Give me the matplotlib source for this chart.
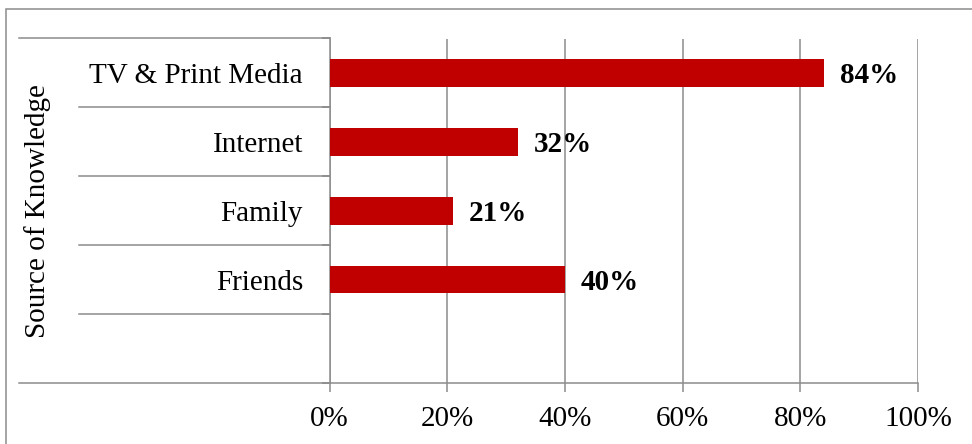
import numpy as np
import matplotlib
matplotlib.use('Agg')
import matplotlib.pyplot as plt
from matplotlib.patches import Rectangle

# dados
categorias = ['TV & Print Media', 'Internet', 'Family', 'Friends']
valores = [84, 32, 21, 40]
ticks_x = [0, 20, 40, 60, 80, 100]
rotulo_y = 'Source of Knowledge'

plt.rcParams['font.family'] = ['Liberation Serif', 'DejaVu Serif']
plt.rcParams['font.size'] = 21

W, H = 972, 444
fig = plt.figure(figsize=(W / 100, H / 100), dpi=100)
# area do grafico em pixels: x 329.5..918, y 38.5..383
ax = fig.add_axes([329.5 / W, 1 - 383 / H, (918 - 329.5) / W, (383 - 38.5) / H])

cinza = '#8c8c8c'
n = len(categorias) + 1  # uma faixa vazia embaixo
pos = np.arange(n - 1, 0, -1)

ax.barh(pos, valores, height=0.4, color='#c00000', zorder=3)
for p, v in zip(pos, valores):
    ax.annotate(f'{v}%', (v, p), xytext=(11.5, 0), textcoords='offset points',
                va='center_baseline', ha='left', fontweight='bold')

ax.set_xlim(0, 100)
ax.set_ylim(-0.5, n - 0.5)
ax.set_xticks(ticks_x)
ax.set_xticklabels([f'{t}%' for t in ticks_x])
ax.xaxis.grid(True, color=cinza, linewidth=1.1, zorder=0)
ax.tick_params(axis='x', length=6.5, width=1.1, color=cinza, pad=10)

# limites das categorias como ticks maiores, nomes como ticks menores
limites = np.arange(-0.5, n, 1.0)
ax.set_yticks(limites)
ax.set_yticklabels([])
ax.tick_params(axis='y', which='major', length=6, width=1.1, color='#7a7a7a')
ax.set_yticks(pos, minor=True)
ax.set_yticklabels(categorias, minor=True)
ax.tick_params(axis='y', which='minor', length=0, pad=19)

for s in ['top', 'right']:
    ax.spines[s].set_visible(False)
for s in ['left', 'bottom']:
    ax.spines[s].set_color(cinza)
    ax.spines[s].set_linewidth(1.1)

# linhas horizontais da tabela de categorias
tr = ax.get_yaxis_transform()
for b in limites:
    if b == limites[0] or b == limites[-1]:
        x0 = (19 - 329.5) / (918 - 329.5)
    else:
        x0 = (79 - 329.5) / (918 - 329.5)
    ax.plot([x0, 0], [b, b], color=cinza, linewidth=1.1, transform=tr, clip_on=False)

fig.text(38 / W, 1 - 210.75 / H, rotulo_y, rotation=90, ha='center', va='center')

# moldura externa
fig.add_artist(Rectangle((5.7 / W, -0.1), 1.2, 1 - 9.5 / H + 0.1, transform=fig.transFigure,
                         fill=False, edgecolor=cinza, linewidth=1.1))

fig.savefig('out.png', dpi=100)
